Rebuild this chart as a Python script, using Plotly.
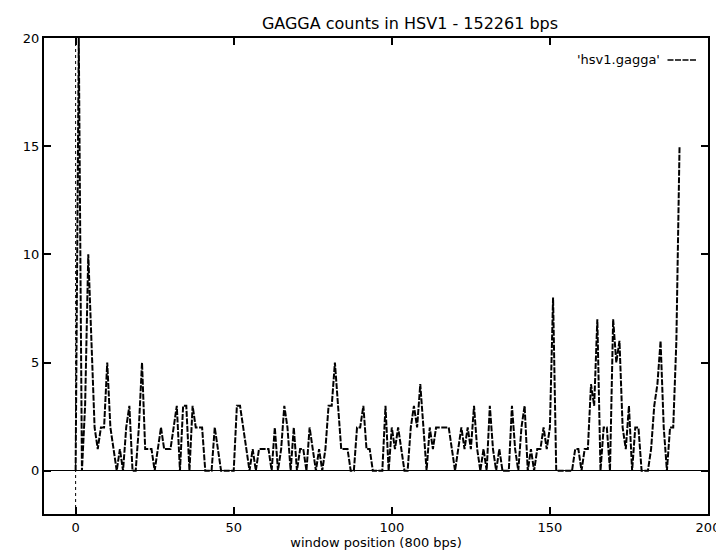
import plotly.graph_objects as go

title_text = "GAGGA counts in HSV1 - 152261 bps"
x_label = "window position (800 bps)"
series_name = "'hsv1.gagga'"

counts = [0, 20, 0, 3, 10, 6, 2, 1, 2, 2, 5, 2, 1, 0, 1, 0, 2, 3, 0, 0,
          2, 5, 1, 1, 1, 0, 1, 2, 1, 1, 1, 2, 3, 0, 3, 3, 0, 3, 2, 2,
          2, 0, 0, 0, 2, 1, 0, 0, 0, 0, 0, 3, 3, 2, 1, 0, 1, 0, 1, 1,
          1, 1, 0, 2, 0, 1, 3, 2, 0, 2, 0, 1, 1, 0, 2, 1, 0, 1, 0, 1,
          3, 3, 5, 3, 1, 1, 1, 0, 0, 2, 2, 3, 1, 1, 0, 0, 0, 0, 3, 0,
          2, 1, 2, 1, 0, 0, 2, 3, 2, 4, 2, 0, 2, 1, 2, 2, 2, 2, 2, 1,
          0, 1, 2, 1, 2, 1, 3, 1, 0, 1, 0, 3, 1, 0, 1, 0, 0, 0, 3, 1,
          0, 2, 3, 0, 1, 0, 1, 1, 2, 1, 2, 8, 0, 0, 0, 0, 0, 0, 1, 1,
          0, 1, 1, 4, 3, 7, 0, 2, 2, 0, 7, 5, 6, 2, 1, 3, 0, 2, 2, 0,
          0, 0, 1, 3, 4, 6, 2, 0, 2, 2, 6, 15]
positions = list(range(len(counts)))

x_ticks = [0, 50, 100, 150, 200]
y_ticks = [0, 5, 10, 15, 20]
x_range = [-10, 200]
y_range = [-2, 20]

FONT = "DejaVu Sans, Verdana, sans-serif"

fig = go.Figure()
fig.add_trace(go.Scatter(
    x=positions, y=counts, mode="lines", name=series_name,
    line=dict(color="black", width=2, dash="6px,1.5px"),
    showlegend=False,
))

# vertical zero axis (dotted)
fig.add_shape(type="line", x0=0, x1=0, y0=y_range[0], y1=y_range[1],
              xref="x", yref="y", line=dict(color="black", width=1, dash="dot"))

# gnuplot-style key: text right-justified, sample on its right
fig.add_annotation(x=0.927, y=0.954, xref="paper", yref="paper",
                   text=series_name, showarrow=False, xanchor="right",
                   yanchor="middle", xshift=2,
                   font=dict(family=FONT, size=13, color="black"))
fig.add_shape(type="line", x0=0.939, x1=0.982, y0=0.954, y1=0.954,
              xref="paper", yref="paper",
              line=dict(color="black", width=1.5, dash="6px,1.5px"))

fig.update_layout(
    width=724, height=550,
    margin=dict(l=36, r=15, t=30, b=44),
    paper_bgcolor="white", plot_bgcolor="white",
    font=dict(family=FONT, size=13, color="black"),
    title=dict(text=title_text, x=402 / 724, xanchor="center",
               y=1 - 15 / 550, yanchor="middle",
               font=dict(family=FONT, size=16, color="black")),
)
fig.update_xaxes(range=x_range, tickvals=x_ticks, ticks="inside", ticklen=7,
                 tickwidth=2, tickcolor="black", showline=True, linecolor="black",
                 linewidth=2, mirror="ticks", showgrid=False, zeroline=False,
                 tickfont=dict(size=13),
                 title=dict(text=x_label, standoff=0, font=dict(size=13)))
fig.update_yaxes(range=y_range, tickvals=y_ticks, ticks="inside", ticklen=7,
                 tickwidth=2, tickcolor="black", showline=True, linecolor="black",
                 linewidth=2, mirror="ticks", showgrid=False, zeroline=True,
                 zerolinecolor="black", zerolinewidth=1, tickfont=dict(size=13))

fig.write_html("out.html")
